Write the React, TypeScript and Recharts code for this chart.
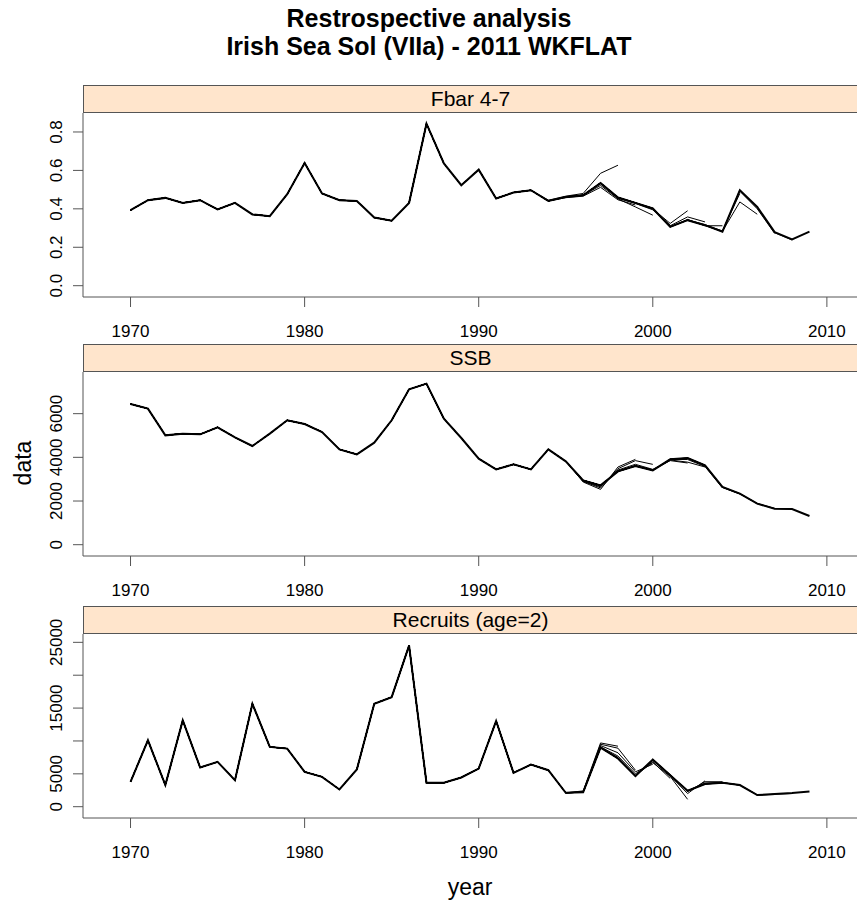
import React from "react";
import { Line, LineChart, XAxis, YAxis } from "recharts";

// assessment years
const years = [
  1970, 1971, 1972, 1973, 1974, 1975, 1976, 1977, 1978, 1979,
  1980, 1981, 1982, 1983, 1984, 1985, 1986, 1987, 1988, 1989,
  1990, 1991, 1992, 1993, 1994, 1995, 1996, 1997, 1998, 1999,
  2000, 2001, 2002, 2003, 2004, 2005, 2006, 2007, 2008, 2009,
];

// final assessment (2009 terminal year)
const fbar = [
  0.393, 0.445, 0.457, 0.431, 0.445, 0.397, 0.431, 0.371, 0.362, 0.476,
  0.639, 0.48, 0.445, 0.441, 0.355, 0.338, 0.431, 0.843, 0.636, 0.523,
  0.604, 0.454, 0.485, 0.497, 0.441, 0.462, 0.471, 0.535, 0.459, 0.431,
  0.402, 0.306, 0.341, 0.315, 0.281, 0.497, 0.41, 0.279, 0.241, 0.281,
];
const ssb = [
  6443, 6229, 5008, 5084, 5053, 5374, 4916, 4519, 5084, 5695,
  5527, 5160, 4366, 4137, 4672, 5695, 7115, 7374, 5771, 4885,
  3939, 3450, 3679, 3450, 4366, 3817, 2946, 2717, 3358, 3603,
  3404, 3908, 3970, 3633, 2642, 2336, 1878, 1649, 1634, 1313,
];
const recruits = [
  3788, 10101, 3283, 13131, 5960, 6818, 4040, 15657, 9091, 8838,
  5303, 4545, 2626, 5657, 15657, 16667, 24495, 3636, 3636, 4444,
  5808, 13030, 5152, 6414, 5556, 2121, 2200, 9000, 7330, 4650,
  7180, 4800, 2430, 3440, 3640, 3290, 1770, 1920, 2080, 2330,
];

// retrospective peels: terminal year, and the last five estimates of each peel
const peelEnds = [1998, 1999, 2000, 2001, 2002, 2003, 2004, 2005, 2006, 2007, 2008];
const fbarPeelTails = [
  [0.445, 0.466, 0.48, 0.585, 0.627],
  [0.458, 0.466, 0.512, 0.447, 0.42],
  [0.47, 0.522, 0.452, 0.41, 0.367],
  [0.53, 0.455, 0.428, 0.395, 0.315],
  [0.46, 0.432, 0.4, 0.324, 0.39],
  [0.432, 0.403, 0.312, 0.358, 0.332],
  [0.402, 0.308, 0.345, 0.312, 0.312],
  [0.306, 0.343, 0.318, 0.285, 0.48],
  [0.342, 0.314, 0.283, 0.436, 0.372],
  [0.313, 0.282, 0.492, 0.4, 0.272],
  [0.281, 0.498, 0.408, 0.276, 0.238],
];
const ssbPeelTails = [
  [4366, 3817, 2900, 2600, 3400],
  [3817, 2870, 2533, 3557, 3908],
  [2900, 2650, 3480, 3850, 3679],
  [2700, 3420, 3680, 3450, 3860],
  [3380, 3620, 3420, 3850, 3741],
  [3620, 3420, 3880, 3780, 3557],
  [3410, 3900, 3900, 3580, 2600],
  [3920, 3950, 3620, 2620, 2320],
  [3960, 3640, 2630, 2330, 1880],
  [3640, 2640, 2340, 1890, 1660],
  [2640, 2336, 1878, 1650, 1630],
];
const recruitPeelTails = [
  [5556, 2121, 2400, 9700, 9200],
  [2121, 2300, 9500, 8900, 5560],
  [2200, 9300, 8200, 5300, 6470],
  [9100, 7700, 5000, 6800, 4300],
  [7500, 4800, 6700, 4600, 1120],
  [4700, 7000, 4700, 2000, 3940],
  [7100, 4900, 2300, 3800, 3800],
  [4850, 2400, 3600, 3700, 3250],
  [2430, 3500, 3650, 3300, 1800],
  [3450, 3640, 3290, 1770, 1850],
  [3640, 3290, 1770, 1900, 2000],
];

const xTicks = [1970, 1980, 1990, 2000, 2010];
const fbarTicks = [0, 0.2, 0.4, 0.6, 0.8];
const ssbTicks = [0, 2000, 4000, 6000];
const recruitTicks = [0, 5000, 10000, 15000, 20000, 25000];
const recruitLabels = [0, 5000, 15000, 25000];

const FONT = "'Liberation Sans', Arial, Helvetica, sans-serif";
const AXIS = "#555555";
const PLOT_LEFT = 83;
const PLOT_W = 774;
const PLOT_H = 184;
const TOP_ROOM = 40; // room above the plot so long rotated labels are not clipped

function pad(lo: number, hi: number): [number, number] {
  const r = hi - lo;
  return [lo - r * 0.07, hi + r * 0.07];
}

function buildRows(main: number[], tails: number[][]) {
  return years.map((yr, i) => {
    const row: Record<string, number | undefined> = { year: yr, main: main[i] };
    peelEnds.forEach((end, k) => {
      const start = end - 4;
      let v: number | undefined;
      if (yr > end) v = undefined;
      else if (yr >= start) v = tails[k][yr - start];
      else v = main[i];
      row["p" + end] = v;
    });
    return row;
  });
}

function YTick(props: any) {
  const { x, y, payload, labels, fmt } = props;
  if (labels && !labels.includes(payload.value)) return null;
  const cx = x - 16;
  return (
    <text
      x={cx}
      y={y}
      transform={`rotate(-90 ${cx} ${y})`}
      textAnchor="middle"
      dominantBaseline="central"
      fontSize={17}
      fontFamily={FONT}
      fill="#000"
    >
      {fmt ? fmt(payload.value) : payload.value}
    </text>
  );
}

function XTick(props: any) {
  const { x, y, payload } = props;
  return (
    <text x={x} y={y} dy="0.71em" textAnchor="middle" fontSize={17} fontFamily={FONT} fill="#000">
      {payload.value}
    </text>
  );
}

interface PanelProps {
  title: string;
  top: number;
  rows: Record<string, number | undefined>[];
  domain: [number, number];
  ticks: number[];
  labels?: number[];
  fmt?: (v: number) => string;
}

function Panel({ title, top, rows, domain, ticks, labels, fmt }: PanelProps) {
  return (
    <>
      <div
        style={{
          position: "absolute",
          left: PLOT_LEFT,
          top: top - 28,
          width: PLOT_W,
          height: 28,
          boxSizing: "border-box",
          background: "#ffe5cc",
          borderTop: `1px solid ${AXIS}`,
          borderBottom: `1px solid ${AXIS}`,
          borderLeft: `1px solid ${AXIS}`,
          fontFamily: FONT,
          fontSize: 21,
          lineHeight: "26px",
          textAlign: "center",
          color: "#000",
        }}
      >
        {title}
      </div>
      <div style={{ position: "absolute", left: 0, top: top - TOP_ROOM }}>
        <LineChart
          width={PLOT_LEFT + PLOT_W + 1}
          height={PLOT_H + 50 + TOP_ROOM}
          data={rows}
          margin={{ top: TOP_ROOM, right: 1, bottom: 0, left: 0 }}
        >
          <XAxis
            dataKey="year"
            type="number"
            domain={[1967.27, 2011.73]}
            ticks={xTicks}
            allowDataOverflow
            height={50}
            tickSize={10}
            tickMargin={18}
            axisLine={{ stroke: AXIS }}
            tickLine={{ stroke: AXIS }}
            tick={<XTick />}
          />
          <YAxis
            type="number"
            domain={domain}
            ticks={ticks}
            allowDataOverflow
            width={PLOT_LEFT}
            tickSize={10}
            tickMargin={0}
            axisLine={{ stroke: AXIS }}
            tickLine={{ stroke: AXIS }}
            tick={<YTick labels={labels} fmt={fmt} />}
          />
          {peelEnds.map((end) => (
            <Line
              key={end}
              type="linear"
              dataKey={"p" + end}
              stroke="#000"
              strokeWidth={1}
              dot={false}
              activeDot={false}
              isAnimationActive={false}
            />
          ))}
          <Line
            type="linear"
            dataKey="main"
            stroke="#000"
            strokeWidth={2}
            dot={false}
            activeDot={false}
            isAnimationActive={false}
          />
        </LineChart>
      </div>
    </>
  );
}

export default function App() {
  const fbarRows = buildRows(fbar, fbarPeelTails);
  const ssbRows = buildRows(ssb, ssbPeelTails);
  const recRows = buildRows(recruits, recruitPeelTails);

  return (
    <div
      style={{
        position: "absolute",
        left: 0,
        top: 0,
        width: 858,
        height: 902,
        background: "#fff",
        fontFamily: FONT,
        overflow: "hidden",
      }}
    >
      <div
        style={{
          position: "absolute",
          left: 0,
          width: 858,
          top: 4,
          textAlign: "center",
          fontWeight: "bold",
          fontSize: 25,
          lineHeight: "28px",
          color: "#000",
        }}
      >
        <div>Restrospective analysis</div>
        <div>Irish Sea Sol (VIIa) - 2011 WKFLAT</div>
      </div>

      <Panel
        title="Fbar 4-7"
        top={113}
        rows={fbarRows}
        domain={pad(0, 0.84)}
        ticks={fbarTicks}
        fmt={(v) => v.toFixed(1)}
      />
      <Panel title="SSB" top={372} rows={ssbRows} domain={pad(0, 7390)} ticks={ssbTicks} />
      <Panel
        title="Recruits (age=2)"
        top={634}
        rows={recRows}
        domain={pad(0, 24550)}
        ticks={recruitTicks}
        labels={recruitLabels}
      />

      <div
        style={{
          position: "absolute",
          left: 23,
          top: 463,
          transform: "translate(-50%, -50%) rotate(-90deg)",
          fontSize: 23,
          whiteSpace: "nowrap",
        }}
      >
        data
      </div>
      <div
        style={{
          position: "absolute",
          left: 470,
          top: 887,
          transform: "translate(-50%, -50%)",
          fontSize: 23,
          whiteSpace: "nowrap",
        }}
      >
        year
      </div>
    </div>
  );
}
